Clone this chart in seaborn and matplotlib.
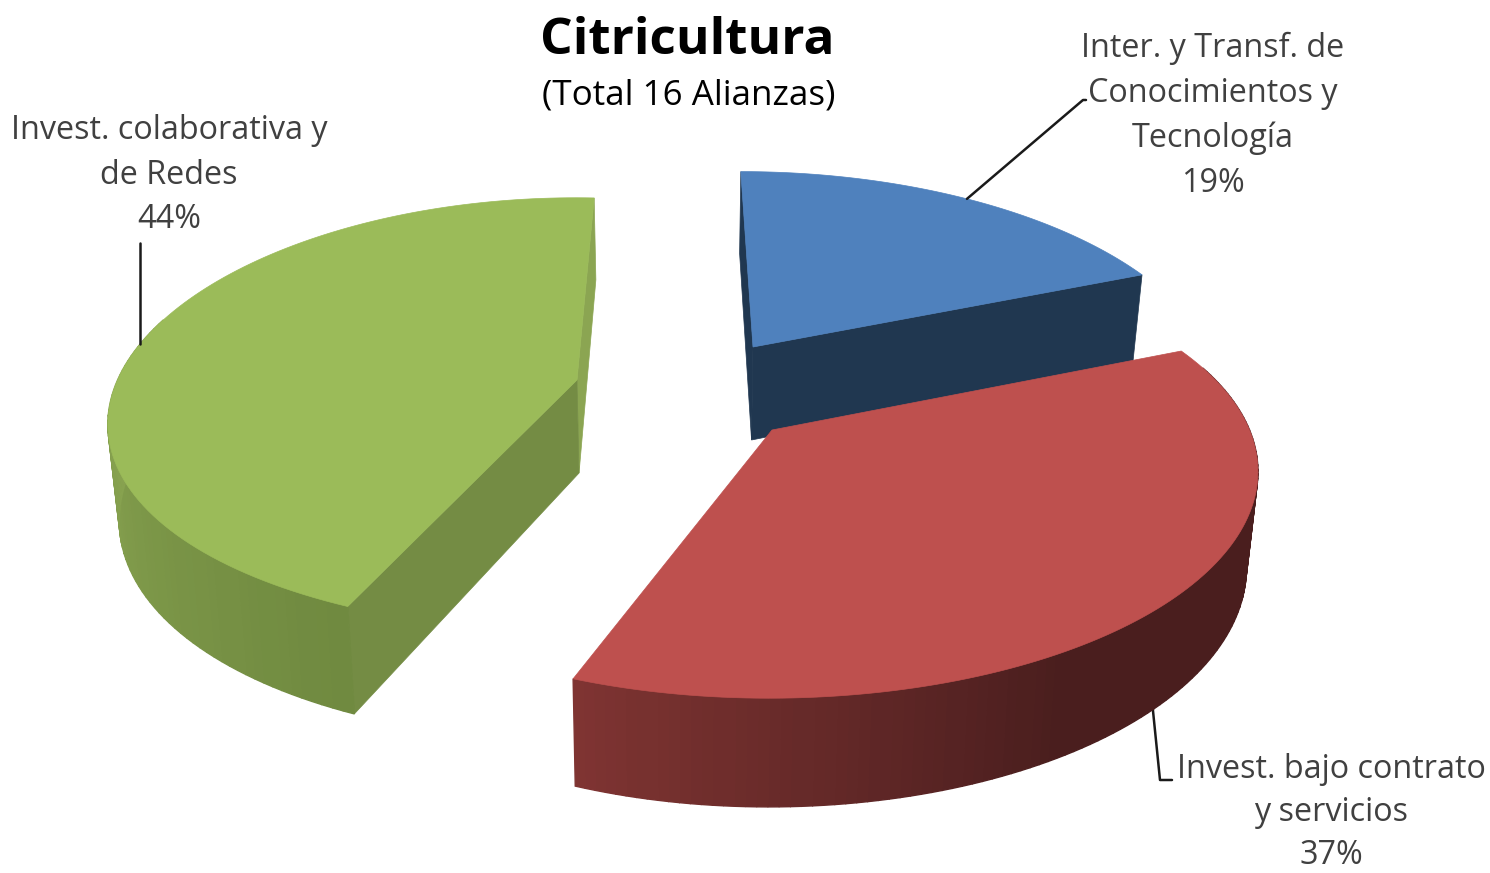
import matplotlib
matplotlib.use('Agg')
import matplotlib.pyplot as plt
import numpy as np
import seaborn as sns

labels = ["Inter. y Transf. de\nConocimientos y\nTecnología\n19%",
          "Invest. bajo contrato\ny servicios\n37%",
          "Invest. colaborativa y\nde Redes\n44%"]
values = [19, 37, 44]

top_colors = ["#4F81BD", "#BE504E", "#9BBB59"]
cut_colors = ["#203750", "#4A1E1E", "#748C44"]
side_light = ["#203750", "#7F3432", "#8BA652"]
side_dark = ["#203750", "#4A1E1E", "#708A40"]

# apex of each exploded slice and radius, in pixels of the reference
apex = [(753, 347), (772, 430), (577, 380)]
radius = [455, 472, 455]
tilt = [0.4626, 0.455, 0.465]
shear = [0.0, -0.025, 0.02]
persp_y = [0.20, 0.20, 0.16]
# small nudge of a slice's two ends, degrees
pad = [(0, 0), (1.6, 0.7), (0, 0)]

VX = 680       # vanishing x
PERSP = 0.20
DEPTH = 93
SHRINK = 0.98  # bottom face leans in towards VX

sns.set_theme(style="white")
plt.rcParams['font.family'] = ['Open Sans', 'DejaVu Sans']


def project(i, theta, bottom=False, r=None):
    # theta in degrees, clockwise from the back of the pie
    r = radius[i] if r is None else r
    t = np.radians(theta)
    w = 1 + PERSP * np.cos(t) * r / radius[i]
    wy = 1 + persp_y[i] * np.cos(t) * r / radius[i]
    x = VX + (apex[i][0] - VX + r * np.sin(t)) / w
    y = apex[i][1] - r * tilt[i] * np.cos(t) / wy + shear[i] * (x - apex[i][0])
    if bottom:
        x = VX + (x - VX) * SHRINK
        y = y + DEPTH / w ** 0.7
    return x, y


edges = np.concatenate([[0], np.cumsum(values)]) * 3.6

fig = plt.figure(figsize=(14.9, 8.73), dpi=100)
ax = fig.add_axes([0, 0, 1, 1])
ax.set_xlim(0, 1490)
ax.set_ylim(873, 0)
ax.axis("off")


def cut_face(i, theta, color, zorder):
    pts = [project(i, theta), project(i, theta, r=0),
           project(i, theta, True, r=0), project(i, theta, True)]
    ax.fill(*zip(*pts), color=color, lw=0.5, zorder=zorder)


def draw_slice(i, zorder):
    a, b = edges[i] + pad[i][0], edges[i + 1] + pad[i][1]
    # cut faces
    if i == 0:
        cut_face(i, a, cut_colors[0], zorder)
        cut_face(i, b, cut_colors[0], zorder)
    elif i == 2:
        cut_face(i, b, "#8BA552", zorder)
        cut_face(i, a, cut_colors[2], zorder)

    # outer wall, shaded strip by strip
    angles = np.linspace(a, b, 121)
    if i == 1:
        span = (angles.max() - angles) / 50
    else:
        span = (angles - angles.min()) / 70
    n = 40
    pal = sns.blend_palette([side_dark[i], side_light[i]] if i == 2 else [side_light[i], side_dark[i]], n)
    for k in range(len(angles) - 1):
        t0, t1 = angles[k], angles[k + 1]
        if np.cos(np.radians(t0)) > 0.25 and np.cos(np.radians(t1)) > 0.25:
            continue
        col = pal[min(int(min(span[k], 1) * (n - 1)), n - 1)]
        pts = [project(i, t0), project(i, t1),
               project(i, t1, True), project(i, t0, True)]
        ax.fill(*zip(*pts), color=col, lw=1, zorder=zorder + 1)

    # top face
    rim = [project(i, t) for t in angles]
    ax.fill(*zip(*(rim + [project(i, a, r=0)])), color=top_colors[i], lw=0.5, zorder=zorder + 2)


draw_slice(2, 1)
draw_slice(0, 5)
draw_slice(1, 9)

# leader lines, from the rim of each slice out to the label
lc = "#1a1a1a"
x0, y0 = project(0, edges[0] + 35)
ax.plot([x0, 1083, 1086], [y0, 100, 100], color=lc, lw=1.8, zorder=20)
x1, y1 = project(2, edges[2] + 76)
ax.plot([x1, x1], [y1, 243], color=lc, lw=1.8, zorder=20)
x2, y2 = project(1, edges[1] + 69, True)
ax.plot([x2, 1160, 1172], [y2, 780, 780], color=lc, lw=1.8, zorder=0)

# labels
txt = "#404040"
lab_font = dict(fontsize=23.3, color=txt, ha="center", va="top", linespacing=1.47, family=['Open Sans', 'DejaVu Sans'])
ax.text(1213, 32, labels[0], **lab_font)
ax.text(1331, 753, labels[1], **{**lab_font, "linespacing": 1.41})
ax.text(169, 114, labels[2], **lab_font)

ax.text(687, 41, "Citricultura", fontsize=37, fontweight="bold", color="black", ha="center", va="center")
ax.text(689, 95, "(Total 16 Alianzas)", fontsize=25.2, color="black", ha="center", va="center")

fig.savefig("out.png", dpi=100)
